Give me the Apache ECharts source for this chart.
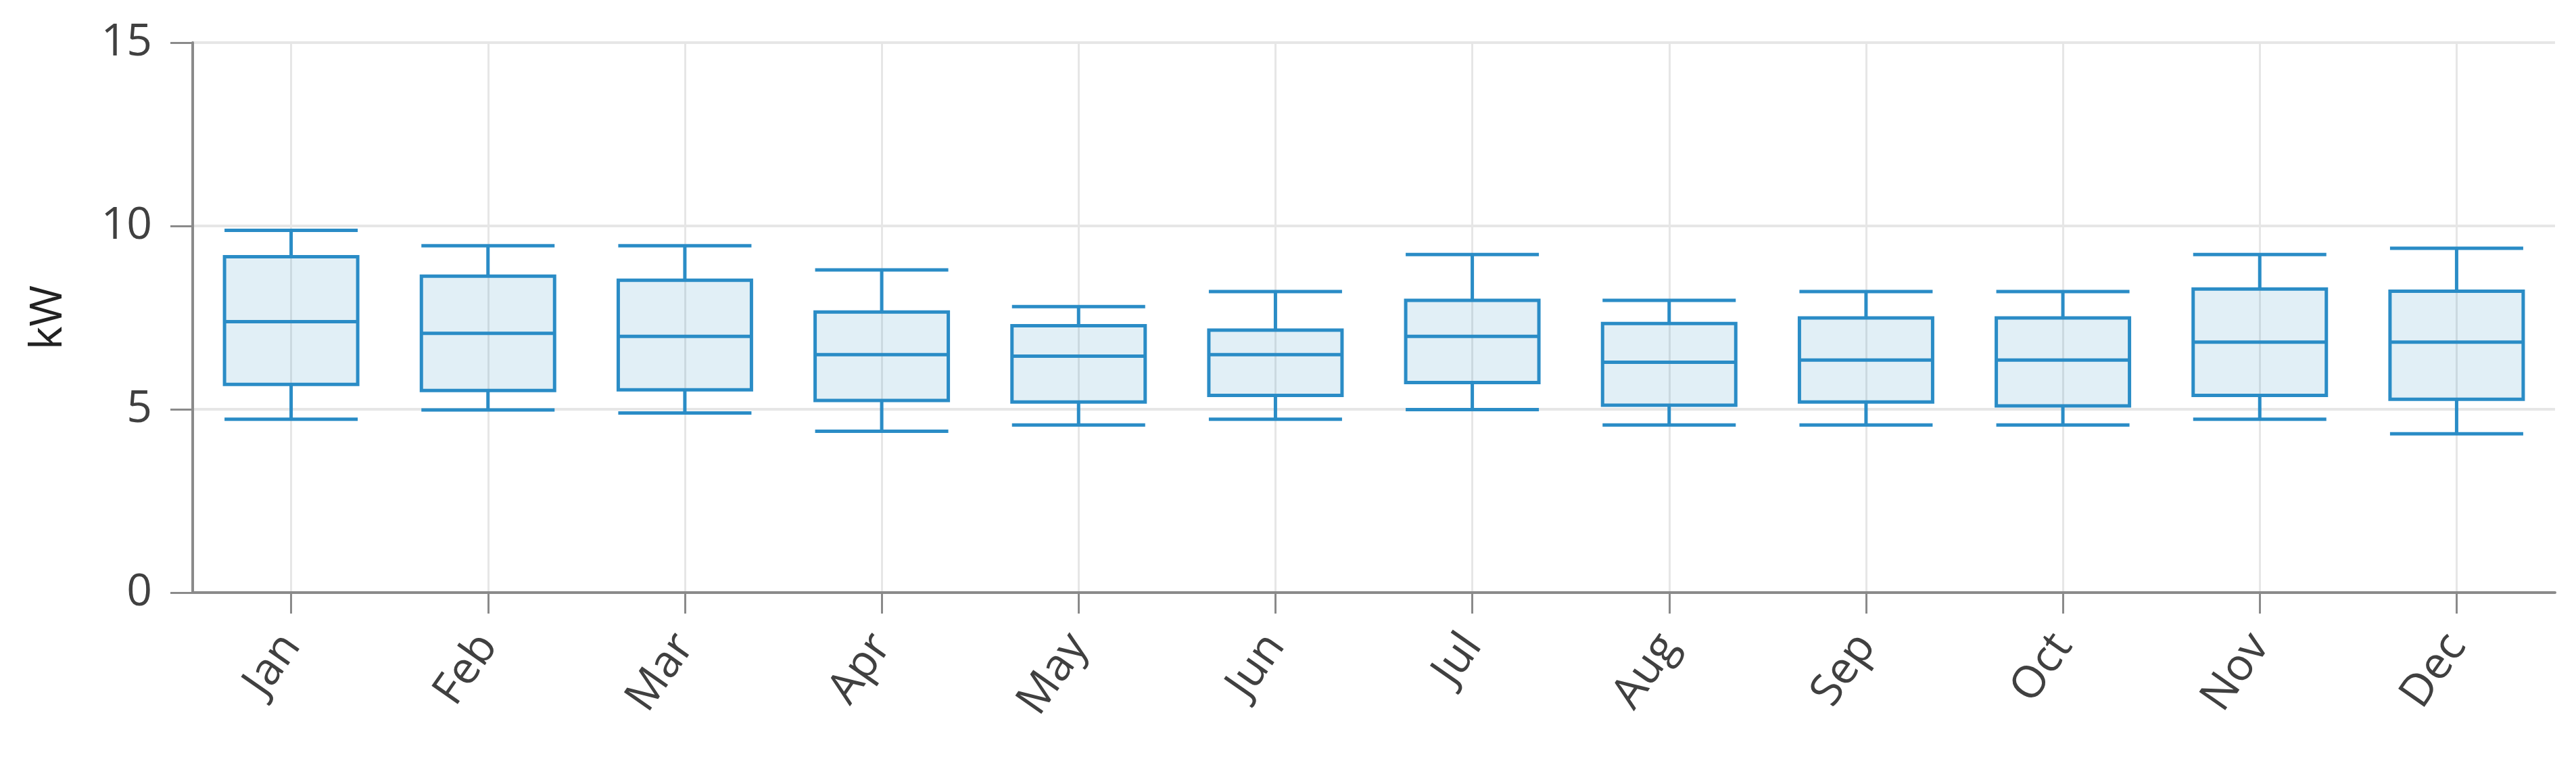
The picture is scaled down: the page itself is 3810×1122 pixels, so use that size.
<!DOCTYPE html>
<html>
<head>
<meta charset="utf-8">
<script src="https://cdn.jsdelivr.net/npm/echarts@6/dist/echarts.min.js"></script>
<style>html,body{margin:0;padding:0;background:#fff}#c{width:3810px;height:1122px}</style>
</head>
<body>
<div id="c"></div>
<script>
// Categories
const months = ['Jan','Feb','Mar','Apr','May','Jun','Jul','Aug','Sep','Oct','Nov','Dec'];
// Box plot statistics (kW)
const whiskerLow  = [4.73, 4.98, 4.90, 4.40, 4.57, 4.73, 4.99, 4.57, 4.57, 4.57, 4.73, 4.33];
const quartile1   = [5.68, 5.51, 5.53, 5.24, 5.20, 5.38, 5.73, 5.11, 5.20, 5.09, 5.38, 5.27];
const medians     = [7.39, 7.07, 6.99, 6.49, 6.45, 6.49, 6.99, 6.28, 6.34, 6.34, 6.83, 6.83];
const quartile3   = [9.16, 8.63, 8.52, 7.65, 7.28, 7.16, 7.97, 7.34, 7.49, 7.49, 8.28, 8.22];
const whiskerHigh = [9.88, 9.46, 9.46, 8.80, 7.80, 8.21, 9.22, 7.97, 8.21, 8.21, 9.22, 9.39];
// Y axis ticks
const yTicks = [0, 5, 10, 15];
const yName = 'kW';

const FONT = "'Segoe UI', 'Open Sans', 'Noto Sans', sans-serif";
const boxData = months.map((m, i) => [whiskerLow[i], quartile1[i], medians[i], quartile3[i], whiskerHigh[i]]);

const chart = echarts.init(document.getElementById('c'), null, {renderer: 'canvas'});
chart.setOption({
  animation: false,
  backgroundColor: '#ffffff',
  grid: {left: 285, right: 31, top: 63, bottom: 246, containLabel: false, outerBoundsMode: 'none'},
  xAxis: {
    type: 'category',
    data: months,
    boundaryGap: true,
    axisLine: {show: true, lineStyle: {color: '#8a8a8a', width: 4}},
    axisTick: {show: true, alignWithLabel: true, length: 31, lineStyle: {color: '#8a8a8a', width: 3}},
    axisLabel: {rotate: 55, margin: 68, interval: 0, fontSize: 66, color: '#404040', fontFamily: FONT},
    splitLine: {show: true, alignWithLabel: true, interval: 0, lineStyle: {color: '#e6e6e6', width: 3}}
  },
  yAxis: {
    type: 'value',
    min: yTicks[0],
    max: yTicks[yTicks.length - 1],
    interval: yTicks[1] - yTicks[0],
    name: yName,
    nameLocation: 'middle',
    nameGap: 180,
    nameTextStyle: {fontSize: 66, color: '#222222', fontFamily: FONT},
    axisLine: {show: true, lineStyle: {color: '#8a8a8a', width: 4}},
    axisTick: {show: true, length: 33, lineStyle: {color: '#8a8a8a', width: 3}},
    axisLabel: {margin: 60, fontSize: 66, color: '#404040', fontFamily: FONT},
    splitLine: {show: true, lineStyle: {color: '#e6e6e6', width: 4}}
  },
  series: [{
    type: 'boxplot',
    data: boxData,
    boxWidth: [197, 197],
    itemStyle: {color: 'rgba(46,139,192,0.14)', borderColor: '#2a8cc6', borderWidth: 5}
  }]
});
</script>
</body>
</html>
